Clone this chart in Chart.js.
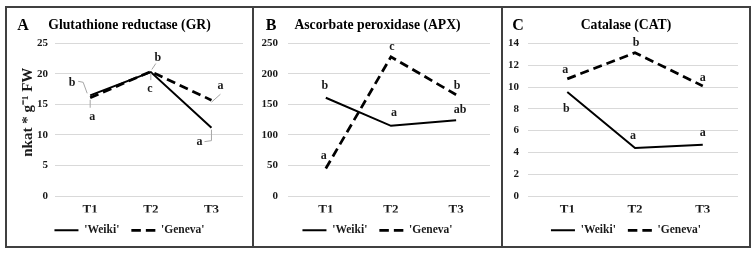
<!DOCTYPE html>
<html>
<head>
<meta charset="utf-8">
<script src="https://cdn.jsdelivr.net/npm/chart.js@4.4.0/dist/chart.umd.min.js"></script>
<style>
    html, body { margin: 0; padding: 0; background: #fff; }
    body { width: 756px; height: 254px; position: relative; overflow: hidden; }
    .frame { position: absolute; left: 5px; top: 6px; width: 742px; height: 238px; border: 2px solid #404040; }
    .sep { position: absolute; top: 6px; width: 2px; height: 242px; background: #404040; }
    canvas { position: absolute; top: 8px; }
</style>
</head>
<body>
<div class="frame"></div>
<div class="sep" style="left: 252px;"></div>
<div class="sep" style="left: 501px;"></div>
<canvas id="grChart" width="245" height="238" style="left: 7px;"></canvas>
<canvas id="apxChart" width="247" height="238" style="left: 254px;"></canvas>
<canvas id="catChart" width="246" height="238" style="left: 503px;"></canvas>

<script>
/* Dados */
const categories = ['T1', 'T2', 'T3'];
const seriesNames = ["'Weiki'", "'Geneva'"];

// A - Glutathione reductase (GR)
const grWeiki = [16.5, 20.3, 11.2];
const grGeneva = [16.1, 20.4, 15.7];
const grWeikiSig = ['b', 'c', 'a'];
const grGenevaSig = ['a', 'b', 'a'];
const grTicks = [0, 5, 10, 15, 20, 25];

// B - Ascorbate peroxidase (APX)
const apxWeiki = [161, 115, 124];
const apxGeneva = [45, 228, 166];
const apxWeikiSig = ['b', 'a', 'ab'];
const apxGenevaSig = ['a', 'c', 'b'];
const apxTicks = [0, 50, 100, 150, 200, 250];

// C - Catalase (CAT)
const catWeiki = [9.55, 4.4, 4.7];
const catGeneva = [10.75, 13.15, 10.1];
const catWeikiSig = ['b', 'a', 'a'];
const catGenevaSig = ['a', 'b', 'a'];
const catTicks = [0, 2, 4, 6, 8, 10, 12, 14];

const SERIF = "'Liberation Serif', 'Times New Roman', serif";
const TEXT = '#1a1a1a';

// letras de significância + linhas guia (posição relativa ao ponto)
function sigPlugin(cfg) {
    return {
        id: 'sig_' + cfg.letter,
        afterLayout(chart) {
            // deixa os rótulos do eixo y usarem a margem esquerda (sem corte)
            chart.scales.y.left = 0;
        },
        afterDatasetsDraw(chart) {
            const ctx = chart.ctx;
            ctx.save();
            ctx.font = `bold 12px ${SERIF}`;
            ctx.textAlign = 'center';
            ctx.textBaseline = 'middle';
            cfg.sig.forEach((letters, ds) => {
                const pts = chart.getDatasetMeta(ds).data;
                letters.forEach((txt, i) => {
                    const p = pts[i];
                    const lead = cfg.leaders && cfg.leaders[ds][i];
                    if (lead) {
                        ctx.strokeStyle = '#a6a6a6';
                        ctx.lineWidth = 1;
                        ctx.beginPath();
                        lead.forEach(([lx, ly], k) => {
                            if (k === 0) ctx.moveTo(p.x + lx, p.y + ly);
                            else ctx.lineTo(p.x + lx, p.y + ly);
                        });
                        ctx.stroke();
                    }
                    const [dx, dy] = cfg.offsets[ds][i];
                    ctx.fillStyle = TEXT;
                    ctx.fillText(txt, p.x + dx, p.y + dy);
                });
            });
            ctx.restore();
        },
        afterDraw(chart) {
            const ctx = chart.ctx;
            ctx.save();
            ctx.font = `bold 16px ${SERIF}`;
            ctx.fillStyle = '#000';
            ctx.textAlign = 'center';
            ctx.textBaseline = 'middle';
            ctx.fillText(cfg.letter, cfg.letterX, 18);
            ctx.restore();
        }
    };
}

function criarPainel(id, cfg) {
    const toPts = arr => arr.map((v, i) => ({ x: i, y: v }));
    new Chart(document.getElementById(id), {
        type: 'line',
        data: {
            datasets: [{
                label: seriesNames[0],
                data: toPts(cfg.weiki),
                borderColor: '#000',
                borderWidth: 2,
                pointRadius: 0,
                pointStyle: 'line',
                tension: 0
            }, {
                label: seriesNames[1],
                data: toPts(cfg.geneva),
                borderColor: '#000',
                borderWidth: 2.75,
                borderDash: [9, 5],
                pointRadius: 0,
                pointStyle: 'line',
                tension: 0
            }]
        },
        options: {
            responsive: false,
            animation: false,
            layout: { padding: { left: cfg.pad, right: cfg.pad, top: 0, bottom: 0 } },
            plugins: {
                title: {
                    display: true,
                    text: cfg.title,
                    color: '#000',
                    font: { family: SERIF, size: 13.7, weight: 'bold' },
                    padding: { top: 9, bottom: 10 }
                },
                legend: {
                    position: 'bottom',
                    labels: {
                        usePointStyle: true,
                        pointStyle: 'line',
                        pointStyleWidth: 24,
                        padding: 12,
                        color: TEXT,
                        font: { family: SERIF, size: 11.5, weight: 'bold' },
                        // traço da legenda igual ao da série
                        generateLabels: chart => Chart.defaults.plugins.legend.labels.generateLabels(chart).map(item => {
                            const ds = chart.data.datasets[item.datasetIndex];
                            return Object.assign(item, {
                                lineDash: ds.borderDash ? [9.5, 5] : [],
                                lineWidth: ds.borderWidth,
                                strokeStyle: ds.borderColor
                            });
                        })
                    }
                },
                tooltip: { enabled: false }
            },
            scales: {
                x: {
                    type: 'linear',
                    min: -0.58,
                    max: 2.52,
                    grid: { display: false, drawTicks: false },
                    border: { display: false },
                    afterBuildTicks: ax => { ax.ticks = categories.map((c, i) => ({ value: i })); },
                    afterFit: ax => { ax.height = 16.5; },
                    ticks: {
                        padding: 6,
                        maxRotation: 0,
                        color: TEXT,
                        font: { family: SERIF, size: 13, weight: 'bold' },
                        callback: v => categories[v]
                    }
                },
                y: {
                    min: 0,
                    max: cfg.ticks[cfg.ticks.length - 1],
                    afterBuildTicks: ax => { ax.ticks = cfg.ticks.map(v => ({ value: v })); },
                    afterFit: ax => { ax.width = cfg.yWidth; },
                    grid: { color: '#d9d9d9', drawTicks: false },
                    border: { display: false },
                    ticks: {
                        padding: cfg.tickPad,
                        color: TEXT,
                        font: { family: SERIF, size: 11, weight: 'bold' }
                    },
                    title: cfg.yTitle ? {
                        display: true,
                        text: cfg.yTitle,
                        color: TEXT,
                        font: { family: SERIF, size: 15, weight: 'bold' },
                        padding: { top: 12, bottom: 0 }
                    } : { display: false }
                }
            }
        },
        plugins: [sigPlugin(cfg)]
    });
}

criarPainel('grChart', {
    title: 'Glutathione reductase (GR)',
    letter: 'A', letterX: 16,
    weiki: grWeiki, geneva: grGeneva, ticks: grTicks,
    sig: [grWeikiSig, grGenevaSig],
    offsets: [[[-18, -12], [-1, 17], [-12, 14]], [[2, 19], [7, -14], [9, -14]]],
    leaders: [
        [[[-12, -14], [-7, -13], [-3, -2]], [[0, 1], [0, 8]], [[-7, 14], [0, 13], [0, 2]]],
        [[[0, 2], [0, 10]], [[1, -2], [5, -8]], [[0, 2], [9, -6]]]
    ],
    pad: 9, yWidth: 39, tickPad: 7,
    yTitle: '\u00A0\u00A0\u00A0\u00A0nkat * g\u207B\u00B9 FW'
});

criarPainel('apxChart', {
    title: 'Ascorbate peroxidase (APX)',
    letter: 'B', letterX: 17,
    weiki: apxWeiki, geneva: apxGeneva, ticks: apxTicks,
    sig: [apxWeikiSig, apxGenevaSig],
    offsets: [[[-1, -12], [3, -13], [4, -10]], [[-2, -13], [1, -10], [1, -9]]],
    pad: 11, yWidth: 23, tickPad: 10
});

criarPainel('catChart', {
    title: 'Catalase (CAT)',
    letter: 'C', letterX: 15,
    weiki: catWeiki, geneva: catGeneva, ticks: catTicks,
    sig: [catWeikiSig, catGenevaSig],
    offsets: [[[-1, 17], [-2, -12], [0, -12]], [[-2, -9], [1, -10], [0, -8]]],
    pad: 11, yWidth: 14, tickPad: 9
});
</script>
</body>
</html>
